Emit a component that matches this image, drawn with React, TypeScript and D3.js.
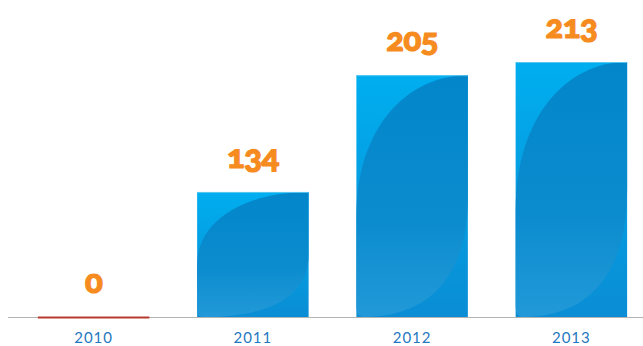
import React from "react";
import * as d3 from "d3";

const years: string[] = ["2010", "2011", "2012", "2013"];
const values: number[] = [0, 134, 205, 213];
// The source chart's vertical axis is broken (not zero-based): bars start at this value
const axisFloor = 58;
const axisCeil = 213;

const W = 643;
const H = 346;
const baseY = 317;
const topY = 62;

const lensPath =
  "M1,0 C0.45,0 0,0.22 0,0.58 L0,0.96 Q0,1 0.06,1 C0.6,1 1,0.86 1,0.5 Z";

export default function App() {
  React.useEffect(() => {
    document.body.style.margin = "0";
  }, []);

  const x = d3
    .scaleBand<string>()
    .domain(years)
    .range([14, 651])
    .paddingInner(0.3)
    .paddingOuter(0.15);

  const y = d3
    .scaleLinear()
    .domain([axisFloor, axisCeil])
    .range([baseY, topY])
    .clamp(true);

  const bw = x.bandwidth();

  return (
    <svg width={W} height={H} style={{ display: "block" }}>
      <defs>
        <linearGradient id="baseGrad" x1="0" y1="0" x2="0" y2="1">
          <stop offset="0" stopColor="#00aeef" />
          <stop offset="1" stopColor="#0a8dd4" />
        </linearGradient>
        <linearGradient id="lensGrad" x1="0" y1="0" x2="0" y2="1">
          <stop offset="0" stopColor="#0386ca" />
          <stop offset="0.6" stopColor="#0b8ccf" />
          <stop offset="1" stopColor="#2299d8" />
        </linearGradient>
      </defs>
      <rect width={W} height={H} fill="#ffffff" />
      <line x1={8} x2={W} y1={baseY + 0.5} y2={baseY + 0.5} stroke="#b3b3b3" strokeWidth={1} />
      {years.map((yr, i) => {
        const v = values[i];
        const x0 = x(yr) as number;
        const yTop = y(v);
        const h = baseY - yTop;
        const cx = x0 + bw / 2;
        return (
          <g key={yr}>
            {h > 0 ? (
              <g>
                <rect x={x0} y={yTop} width={bw} height={h} fill="url(#baseGrad)" />
                <g transform={`translate(${x0},${yTop}) scale(${bw},${h})`}>
                  <path d={lensPath} fill="url(#lensGrad)" />
                </g>
                <rect x={x0} y={yTop} width={bw} height={1} fill="#6ccdf3" opacity={0.8} />
              </g>
            ) : (
              <rect x={x0} y={baseY - 0.5} width={bw} height={2} fill="#b83a2e" />
            )}
            <text
              x={cx}
              y={yTop - 24}
              textAnchor="middle"
              fill="#f68b1f"
              stroke="#f68b1f"
              strokeWidth={1.2}
              style={{
                fontFamily: "Lato, 'Open Sans', sans-serif",
                fontWeight: 900,
                fontSize: 33,
                fontVariantNumeric: "oldstyle-nums",
                letterSpacing: "-0.5px",
              }}
            >
              {String(v)}
            </text>
            <text
              x={cx}
              y={343}
              textAnchor="middle"
              fill="#1f78c1"
              style={{
                fontFamily: "Lato, 'Open Sans', sans-serif",
                fontSize: 15,
                letterSpacing: "1px",
              }}
            >
              {yr}
            </text>
          </g>
        );
      })}
    </svg>
  );
}
